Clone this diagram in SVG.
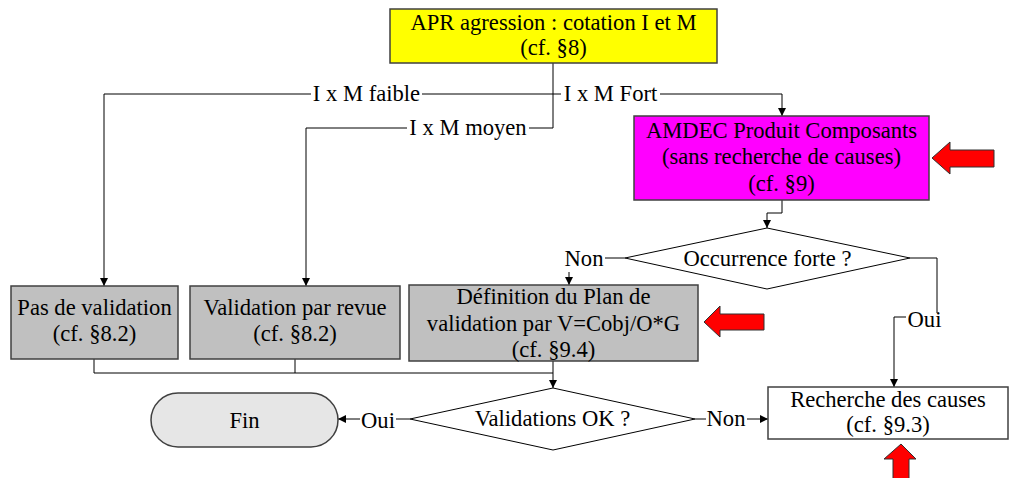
<svg xmlns="http://www.w3.org/2000/svg" width="1009" height="478" viewBox="0 0 1009 478" font-family="Liberation Serif, Times New Roman, DejaVu Serif, serif">
<defs>
<marker id="ah" viewBox="0 0 10 10" refX="10" refY="5" markerWidth="8" markerHeight="8" markerUnits="userSpaceOnUse" orient="auto">
<path d="M0,0 L10,5 L0,10 z" fill="#000"/>
</marker>
<style>
text{font-size:22.6px;fill:#000;text-anchor:middle}
.box{stroke:#404040;stroke-width:1.5}
.c{fill:none;stroke:#000;stroke-width:1}
.ca{fill:none;stroke:#000;stroke-width:1;marker-end:url(#ah)}
.red{fill:#ff0000;stroke:#303030;stroke-width:1}
</style>
</defs>
<rect width="1009" height="478" fill="#fff"/>
<g id="connectors">
<path class="c" d="M553,63 V128"/>
<path class="c" d="M553,94 H422"/>
<path class="ca" d="M311,94 H104 V286"/>
<path class="c" d="M553,128 H529"/>
<path class="ca" d="M407,128 H306 V286"/>
<path class="c" d="M553,94 H561"/>
<path class="ca" d="M660,94 H782 V116"/>
<path class="ca" d="M782,200 V213 H767 V228"/>
<path class="c" d="M625,258 H605"/>
<path class="ca" d="M569,272 V285"/>
<path class="c" d="M910,258 H937 V313"/>
<path class="ca" d="M906,317 H894 V387"/>
<path class="c" d="M94,359 V373 H553"/>
<path class="c" d="M295,359 V373"/>
<path class="ca" d="M553,361 V388"/>
<path class="c" d="M410,419 H396"/>
<path class="ca" d="M360,419 H338"/>
<path class="c" d="M695,419 H706"/>
<path class="ca" d="M747,419 H768"/>
<text x="366.5" y="101">I x M faible</text>
<text x="610.5" y="101">I x M Fort</text>
<text x="468" y="135">I x M moyen</text>
<text x="584" y="266">Non</text>
<text x="924.5" y="327">Oui</text>
<text x="378" y="428">Oui</text>
<text x="726" y="426">Non</text>
</g>
<g id="apr">
<rect class="box" x="390" y="9" width="327" height="54" fill="#ffff00"/>
<text x="553.5" y="30">APR agression : cotation I et M</text>
<text x="553.5" y="55">(cf. §8)</text>
</g>
<g id="amdec">
<rect class="box" x="634" y="116" width="295" height="84" fill="#ff00ff"/>
<text x="781.5" y="138">AMDEC Produit Composants</text>
<text x="781.5" y="164">(sans recherche de causes)</text>
<text x="781.5" y="191">(cf. §9)</text>
</g>
<g id="arrow-amdec">
<path class="red" d="M932,158 L950,142 L950,150 L994,150 L994,167 L950,167 L950,174 Z"/>
</g>
<g id="occurrence">
<path class="c" d="M767,228 L910,258 L767,289 L625,258 Z" fill="#fff"/>
<text x="767.5" y="266">Occurrence forte ?</text>
</g>
<g id="pas-validation">
<rect class="box" x="11" y="286" width="167" height="73" fill="#c0c0c0"/>
<text x="94.5" y="315">Pas de validation</text>
<text x="94.5" y="341">(cf. §8.2)</text>
</g>
<g id="validation-revue">
<rect class="box" x="190" y="286" width="210" height="73" fill="#c0c0c0"/>
<text x="295" y="315">Validation par revue</text>
<text x="295" y="341">(cf. §8.2)</text>
</g>
<g id="definition">
<rect class="box" x="409" y="285" width="289" height="76" fill="#c0c0c0"/>
<text x="553.5" y="304">Définition du Plan de</text>
<text x="553.5" y="331">validation par V=Cobj/O*G</text>
<text x="553.5" y="357">(cf. §9.4)</text>
</g>
<g id="arrow-definition">
<path class="red" d="M704,322 L720,306 L720,314 L764,314 L764,330 L720,330 L720,337 Z"/>
</g>
<g id="validations-ok">
<path class="c" d="M553,388 L695,419 L553,450 L410,419 Z" fill="#fff"/>
<text x="552.5" y="426">Validations OK ?</text>
</g>
<g id="fin">
<rect class="box" x="151" y="393" width="187" height="54" rx="27" ry="27" fill="#e6e6e6"/>
<text x="244.5" y="428">Fin</text>
</g>
<g id="recherche">
<rect class="box" x="768" y="387" width="240" height="52" fill="#fff"/>
<text x="888" y="407">Recherche des causes</text>
<text x="888" y="432">(cf. §9.3)</text>
</g>
<g id="arrow-recherche">
<path class="red" d="M901,444 L916,459 L909,459 L909,480 L893,480 L893,459 L884,459 Z"/>
</g>
</svg>
